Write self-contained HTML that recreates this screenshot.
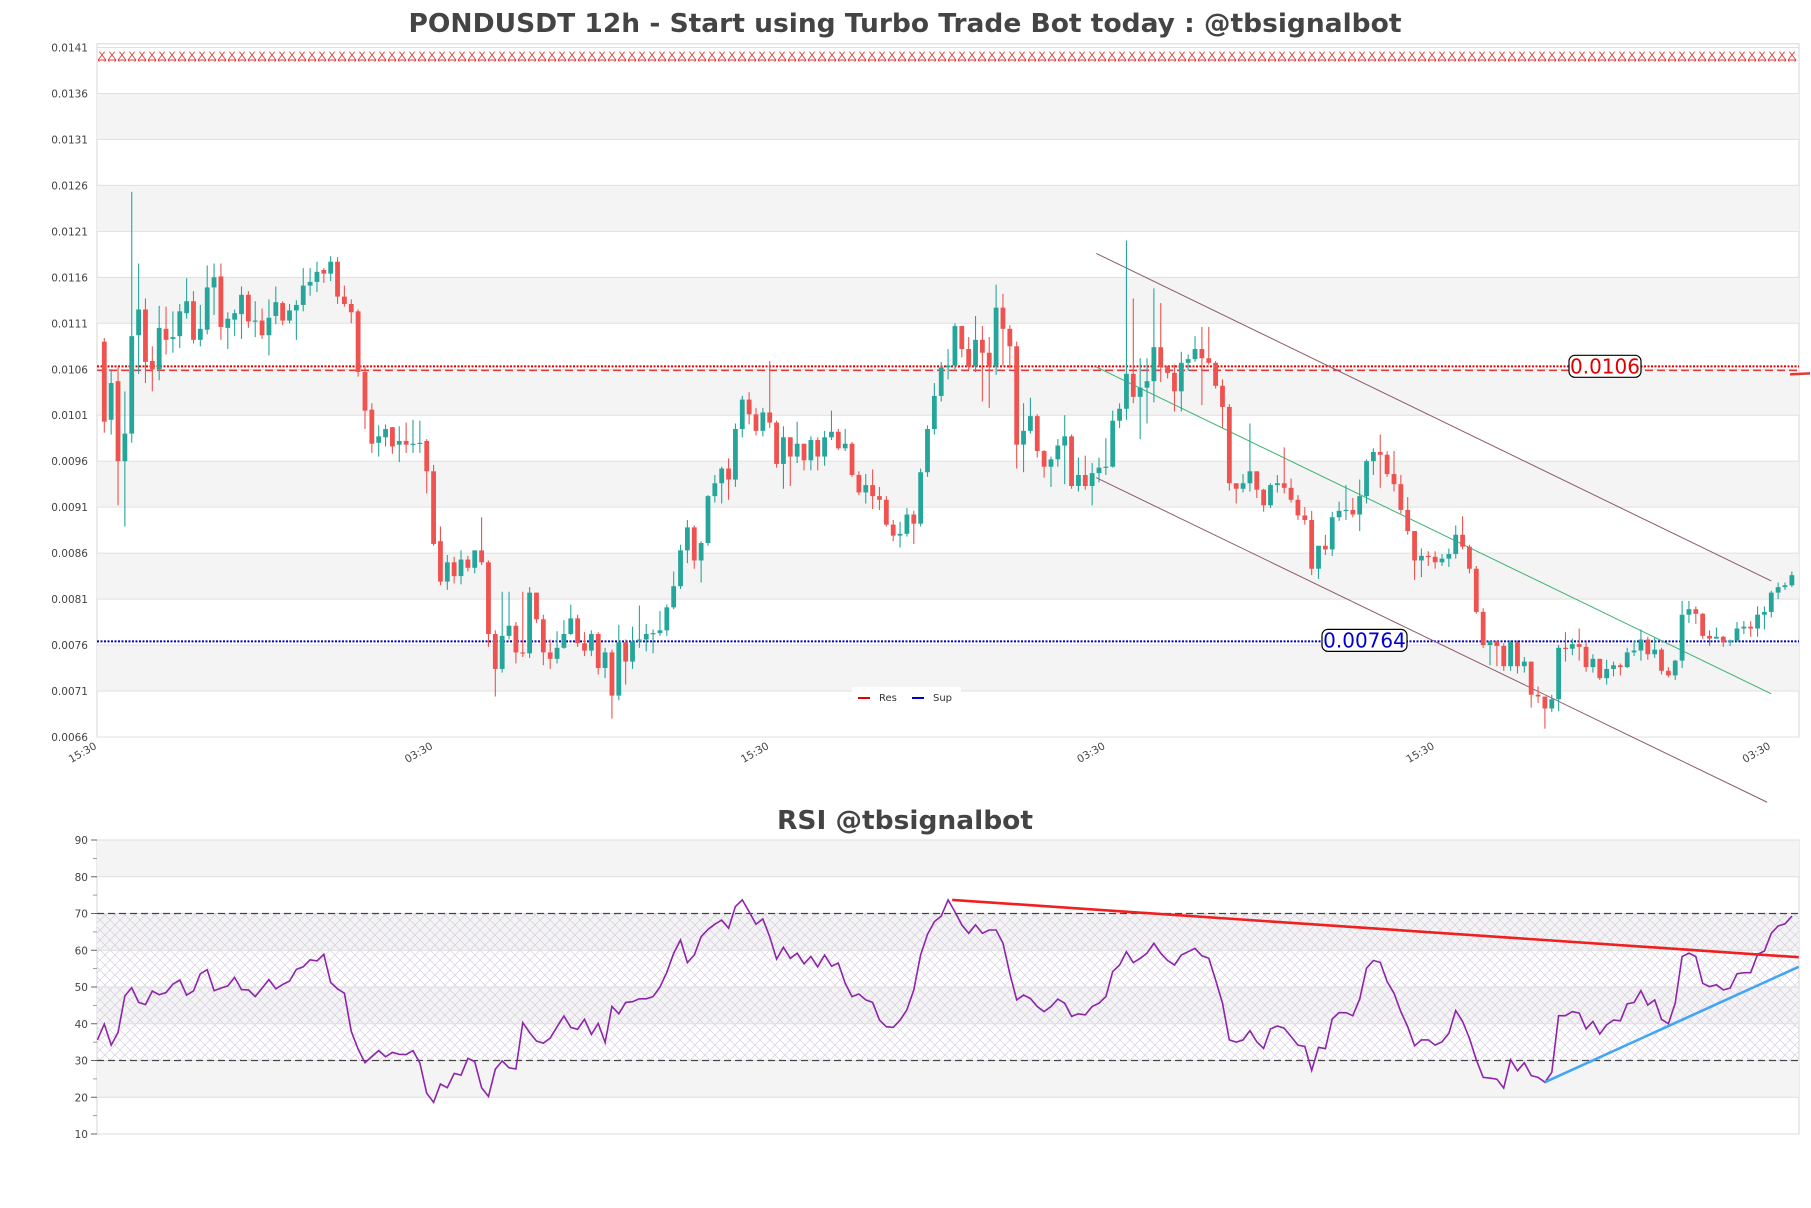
<!DOCTYPE html>
<html><head><meta charset="utf-8"><title>PONDUSDT 12h</title>
<style>
html,body{margin:0;padding:0;background:#fff;}
svg{display:block;font-family:"DejaVu Sans","Liberation Sans",sans-serif;}
</style></head>
<body>
<svg id="chart" xmlns="http://www.w3.org/2000/svg" width="1811" height="1208" viewBox="0 0 1811 1208">
<defs>
<pattern id="hatch" width="10" height="10" patternUnits="userSpaceOnUse">
<path d="M0,0 L10,10 M10,0 L0,10" stroke="#cbbfd8" stroke-width="0.7" fill="none"/>
</pattern>
<pattern id="xline" x="97" width="10" height="10" patternUnits="userSpaceOnUse">
<path d="M1,0 L9,10 M9,0 L1,10 M1,0 L9,0 M1,10 L9,10" stroke="#e53935" stroke-width="0.9" fill="none"/>
</pattern>
</defs>
<text x="905" y="32" text-anchor="middle" font-size="26" font-weight="bold" fill="#444" textLength="993" lengthAdjust="spacingAndGlyphs">PONDUSDT 12h - Start using Turbo Trade Bot today : @tbsignalbot</text>
<text x="905" y="829" text-anchor="middle" font-size="26" font-weight="bold" fill="#444" textLength="256" lengthAdjust="spacingAndGlyphs">RSI @tbsignalbot</text>
<g id="main"></g>
<g id="rsi"></g>
</svg>
<script>
// price values in units of 0.0001
const opens=[109,100.5,104.7,96,99,109.7,112.5,106.9,106,110.4,109.3,109.6,112.1,113.4,109.2,110.3,114.9,116.1,110.5,111.4,112,114.1,111.2,111.3,109.7,111.8,113.2,111.3,112.4,113,115.1,115.5,116.8,116.4,117.7,113.9,113.1,112.3,105.7,101.6,98,98.6,99.7,97.8,98.2,97.8,97.9,98.2,94.9,87.3,82.9,85,83.5,85.3,84.4,86.3,85,77.2,73.4,77,78.1,75.2,
75.1,81.7,78.8,75.2,74.5,75.7,77.2,78.9,76.2,75.4,77.2,73.5,75.2,70.5,76.3,74.2,76.4,76.6,77.2,77.3,77.6,80.1,82.4,86.3,88.8,85.2,87.1,92.2,93.6,95.2,94,99.5,102.7,101.1,99.3,101.3,100.2,95.7,98.6,96.5,97.9,96.1,98.3,96.5,98.6,99.2,97.4,97.9,94.5,92.6,93.4,92.2,91.8,89.1,87.9,88.1,90.2,89.2,94.8,
99.5,103.1,106.2,106.4,110.7,108.2,106.3,109.2,107.8,106.3,112.7,110.4,108.5,97.8,99.3,100.9,97.1,95.4,96.2,97.7,98.7,93.3,94.5,93.3,94.7,95.3,95.4,100.4,101.7,105.5,103,104,104.7,108.4,106.3,105.6,103.6,106.7,107.1,108.2,107.2,106.7,104.2,101.9,93.6,93,93.6,94.9,92.9,91.2,93.4,93.6,93.1,91.8,90.1,89.6,84.3,86.8,86.4,89.9,90.6,90.7,90.2,
92.2,96,97,96.7,94.6,93.5,90.7,88.4,85.2,85.7,85.6,85,85.4,85.9,88,86.7,84.3,79.6,76,76.4,75.9,73.7,76.3,73.7,74.2,70.6,70.4,69.1,70.1,75.7,75.6,76.1,75.8,73.6,74.5,72.4,73.4,73.8,73.6,75.2,75.4,76.6,75,75.5,73.2,72.7,74.3,79.3,79.9,79.4,77,76.7,76.9,76.3,76.5,77.8,78,77.8,79.3,79.6,81.7,82.3,82.5];
const closes=[100.3,104.5,96,99,109.6,112.5,106.8,106,110.5,109.2,109.5,112.3,113.4,109.2,110.4,114.9,116,110.6,111.5,112.1,114.1,111.2,111.3,109.7,111.6,113.3,111.3,112.4,113,115.1,115.5,116.6,116.4,117.7,113.9,113.1,112.2,105.7,101.5,97.9,98.7,99.5,97.6,98.2,97.8,97.9,98,94.9,87,82.9,85,83.5,85.3,84.4,86.3,85,77.2,73.4,77,78.1,75.2,75.1,
81.7,78.8,75.2,74.5,75.7,77.2,78.9,76.2,75.4,77.2,73.5,75.2,70.5,76.3,74.2,76.4,76.6,77.2,77.3,77.6,80.1,82.4,86.3,88.8,85.2,87.1,92.2,93.6,95.2,94,99.5,102.7,101.1,99.3,101.3,100.2,95.7,98.6,96.5,97.9,96.1,98.3,96.5,98.6,99.2,97.4,97.9,94.5,92.6,93.4,92.2,91.8,89.1,87.9,88.1,90.2,89.2,94.8,99.5,
103.1,106.2,106.4,110.7,108.2,106.3,109.2,107.8,106.3,112.7,110.4,108.5,97.8,99.3,100.9,97.1,95.4,96.2,97.7,98.7,93.3,94.5,93.3,94.7,95.3,95.4,100.4,101.7,105.5,103,104,104.7,108.4,106.3,105.6,103.6,106.7,107.1,108.2,107.2,106.7,104.2,101.9,93.6,93,93.6,94.9,92.9,91.2,93.4,93.6,93.1,91.8,90.1,89.6,84.3,86.8,86.4,89.9,90.6,90.7,90.2,92.2,
96,97,96.7,94.6,93.5,90.7,88.4,85.2,85.7,85.6,85,85.4,85.9,88,86.7,84.3,79.6,76,76.4,75.9,73.7,76.3,73.7,74.2,70.6,70.4,69.1,70.1,75.7,75.6,76.1,75.8,73.6,74.5,72.4,73.4,73.8,73.6,75.2,75.4,76.6,75,75.5,73.2,72.7,74.3,79.3,79.9,79.4,77,76.7,76.9,76.3,76.5,77.8,78,77.8,79.3,79.6,81.7,82.3,82.5,83.6];
const highs=[109.4,106,106.2,103.6,125.3,117.5,113.7,108.5,112.9,112.8,112.3,113.1,115.9,114.5,113,117.3,117.5,117.5,112.2,112.5,115,114.5,113.4,112.6,113.6,115,113.4,113.1,113.5,117,117,117.7,117,118.3,118.2,115.1,113.6,112.5,106.4,102.3,99.9,100,99.7,99.8,100.2,100.5,100.4,98.4,95.6,88.9,85.8,85.6,86.3,85.7,86.3,89.9,85.2,77.6,81.8,81.8,78.5,81.8,
82.3,81.7,79.3,76.6,77.5,78.7,80.4,79.3,77.4,77.6,77.4,75.7,75.5,78.2,76.6,78,80.3,78.3,77.7,79.7,80.4,84,86.9,89.6,89,87.3,92.3,94.5,95.4,96.3,100.1,103.1,103.5,101.8,101.8,106.9,100.4,99.8,98.6,100.3,97.9,98.7,98.6,99.3,101.5,99.5,99.5,98.1,94.9,94.6,95.1,93.2,92.2,89.6,89.4,90.9,90.6,95.2,99.9,
104.5,106.8,108.2,111,110.7,109.5,111.8,110.7,109.5,115.2,114.2,110.8,109,102.3,102.9,101.1,97.2,96.5,98.4,101,98.9,96.4,96.6,95.8,96.4,98.5,101.5,102.3,120.0,113.7,107.2,107.2,114.8,113.2,106.4,106.5,107.9,107.6,109.6,110.6,110.6,106.9,104.9,102.2,93.6,94.6,100.1,94.9,93,93.6,94.5,97.5,94.1,92.3,91,90.6,86.8,88,90.5,91.6,93.4,92,94,
96.2,97.4,98.9,97.1,97.1,94.5,92.1,88.4,86.5,86.2,86.2,85.9,86.5,89,90,86.9,84.6,80,76.5,76.5,76.2,76.5,76.5,74.7,74.2,71.5,70.4,70.6,76,77.4,76.7,77.8,76.3,75,74.5,74.4,74.2,74,75.7,76.5,77.7,76.9,76.8,75.7,73.6,74.4,80.8,80.8,80.2,79.5,77.6,77.9,77,76.6,78.5,78.6,78.6,80.2,80.2,81.9,82.8,82.8,84];
const lows=[99.1,98.9,91.2,88.9,98,105.5,104.5,103.6,104.8,107.6,107.8,108.3,111.5,108.8,108.5,109.8,111.9,109.2,108.2,109.6,109.3,110.5,109.5,109.3,107.5,110.9,110.8,111,109.2,112.3,114,114.4,115.4,115.6,113.1,112.8,111,105.2,99.5,96.9,96.5,97.6,96.8,95.9,96.9,96.9,96.9,92.5,86.8,82.5,82,82.7,82.6,84,83.8,84.7,75.8,70.4,73,76.6,74,74.7,
74.6,78.4,73.8,73.4,74,75.6,77.1,75.8,74.8,74.8,72.8,72.4,68,70,71.7,73.4,75.7,75.3,75.1,77,77,79.9,82.1,84.9,84.3,82.8,86.8,91.5,91.4,91.8,93.2,98.6,100,98.8,98.7,99.6,95.3,93,93.3,95.8,95,95,95,95.5,98.3,97.2,97.1,94.3,92.3,91.4,90.8,90.7,88.9,87.3,86.6,87.8,87,88.9,94.3,
98.9,102.5,104.9,106,107.3,105.9,105.7,102.5,101.8,105.4,106.4,106.1,95.2,94.8,99,96.4,94.2,93.2,95.4,93.5,93,92.7,92.9,91.2,93.7,94.5,95.3,99.6,100.5,102.3,98.4,100.1,102.4,104.6,105,101.4,101.4,105.8,106.8,102.1,106.5,103.9,99.6,92.8,91.4,92.6,92.7,92,90.5,90.9,92.6,92.5,91.5,89.6,89.1,83.6,83.2,85.8,85.7,89.5,89.6,89.9,88.4,
91.4,94.5,93.1,94.3,92.7,90.3,88,83.1,83.4,84.6,84.3,84.6,84.5,85.4,86.4,83.8,79.4,75.7,73.8,73.7,73.2,73.2,72.9,73,69.2,69.7,66.9,68.7,68.8,74.2,74.9,74.3,73.1,73,72.2,71.7,72.6,72.7,73.5,74.8,74.3,74.4,74.6,72.8,72.5,72.2,73.5,78.4,78.3,76.7,75.9,76.7,75.8,75.9,76.3,77.2,76.9,76.9,77.7,79,81,82,82.3];
const rsiValues=[35.6,39.9,34.2,37.6,47.6,49.8,45.8,45.2,48.9,47.9,48.5,50.8,51.9,47.8,48.9,53.6,54.7,49.0,49.7,50.3,52.6,49.3,49.2,47.4,49.7,52.0,49.5,50.7,51.6,54.8,55.5,57.4,57.1,58.9,51.2,49.5,48.3,37.9,33.1,29.4,31.1,32.7,31.0,32.2,31.7,31.6,32.7,29.3,21.1,18.6,23.6,22.6,26.5,26.0,30.6,29.7,22.6,20.2,27.6,29.9,28.0,27.7,40.3,37.6,35.3,34.7,36.1,39.2,42.1,39.0,38.5,41.2,37.1,40.1,34.9,44.7,42.7,45.8,46.0,46.8,46.8,47.4,50.0,54.0,59.2,
62.8,56.6,58.7,63.7,65.7,67.1,68.2,66.0,71.9,73.7,70.5,67.1,68.5,63.7,57.6,60.8,57.8,59.2,56.3,58.3,55.5,58.7,55.7,56.5,51.0,47.4,48.1,46.5,45.8,41.0,39.2,39.0,41.0,43.8,49.2,58.7,64.3,67.8,69.3,73.7,70.5,66.9,64.6,66.9,64.6,65.5,65.5,61.9,53.7,46.5,47.8,46.9,44.7,43.3,44.7,46.7,45.6,42.0,42.7,42.4,44.7,45.6,47.4,54.2,56.0,59.6,56.6,57.8,59.2,61.9,59.2,57.2,56.0,58.7,59.6,60.5,58.5,57.8,51.9,45.6,35.6,35.0,
35.6,38.1,35.1,33.3,38.6,39.4,38.8,36.5,34.2,33.8,27.3,33.6,33.2,41.3,43.0,43.0,42.2,46.7,55.1,57.2,56.7,51.5,48.3,43.3,39.2,34.0,35.6,35.6,34.2,35.1,37.4,43.6,40.6,36.1,30.2,25.4,25.2,24.9,22.5,30.2,27.2,29.4,25.9,25.4,24.1,26.8,42.2,42.2,43.3,42.9,38.6,40.6,37.2,39.7,41.0,40.8,45.4,45.8,49.0,45.1,46.5,41.2,40.0,45.6,58.3,59.2,58.3,51.0,50.1,50.6,49.2,49.7,53.6,53.9,53.9,58.9,59.8,64.6,66.6,67.2,69.3];
const priceTicks=[141,136,131,126,121,116,111,106,101,96,91,86,81,76,71,66];
const priceTickLabels=["0.0141","0.0136","0.0131","0.0126","0.0121","0.0116","0.0111","0.0106","0.0101","0.0096","0.0091","0.0086","0.0081","0.0076","0.0071","0.0066"];
const priceBands=[[136,131],[126,121],[116,111],[106,101],[96,91],[86,81],[76,71]];
const timeTickIndex=[-1,48,97,146,194,243];
const timeTickLabels=["15:30","03:30","15:30","03:30","15:30","03:30"];
const rsiTicks=[90,80,70,60,50,40,30,20,10];
const rsiBands=[[90,80],[70,60],[50,40],[30,20]];
const resistance=106.1, support=76.4, topLevel=140.0;
const channelUpper=[[144.6,118.6],[243,82.97]];
const channelLower=[[144.6,94.2],[242.4,58.9]];
const channelMid=[[144.6,106.25],[243,70.7]];
const rsiRedTrend=[[123.6,73.7],[247,58.1]];
const rsiBlueTrend=[[210,24.1],[247,55.5]];

const NS="http://www.w3.org/2000/svg";
const L=97,R=1799,PT=43.8,PB=737,RT=840,RB=1134;
function xi(i){return 104.3+6.86*i;}
function yp(p){return 47.5+(141-p)*9.193;}
function yr(v){return RT+(90-v)*3.675;}
function mk(parent,tag,attrs){const e=document.createElementNS(NS,tag);for(const k in attrs)e.setAttribute(k,attrs[k]);parent.appendChild(e);return e;}
const main=document.getElementById('main');
const rsi=document.getElementById('rsi');

let el=mk(main,'rect',{x:L,y:PT,width:R-L,height:PB-PT,fill:'#fff',stroke:'#d6d6d6','stroke-width':1});


priceBands.forEach(b=>{
  const e=mk(main,'rect',{x:L,y:yp(b[0]),width:R-L,height:yp(b[1])-yp(b[0]),fill:'#f4f4f4'});
  
  
});
priceTicks.forEach((t,i)=>{
  const g=mk(main,'line',{x1:L,x2:R,y1:yp(t),y2:yp(t),stroke:'#e0e0e0','stroke-width':1});
  
  
  const tx=mk(main,'text',{x:88,y:yp(t)+4,'text-anchor':'end','font-size':10.5,fill:'#444'});
  tx.textContent=priceTickLabels[i];
  
  
});
timeTickIndex.forEach((ti,i)=>{
  const x=xi(ti);
  const tx=mk(main,'text',{x:x,y:748,'text-anchor':'end','font-size':10.5,fill:'#444',transform:`rotate(-30 ${x} 748)`});
  tx.textContent=timeTickLabels[i];
  
  
});
el=mk(main,'rect',{x:L+1,y:yp(topLevel)-5,width:R-L-2,height:10,fill:'url(#xline)'});


el=mk(main,'line',{x1:L,x2:R,y1:yp(resistance)-2,y2:yp(resistance)-2,stroke:'#e00000','stroke-width':2,'stroke-dasharray':'2,1.5'});


el=mk(main,'line',{x1:L,x2:R,y1:yp(resistance)+2,y2:yp(resistance)+2,stroke:'#e53935','stroke-width':1.5,'stroke-dasharray':'8,4'});


el=mk(main,'line',{x1:1790,x2:1810,y1:yp(resistance)+6,y2:yp(resistance)+5,stroke:'#e53935','stroke-width':2.5});


el=mk(main,'line',{x1:L,x2:R,y1:yp(support),y2:yp(support),stroke:'#0000c0','stroke-width':2,'stroke-dasharray':'2,1.5'});


[[channelUpper,'#8d5a68','channel-upper'],[channelLower,'#8d5a68','channel-lower'],[channelMid,'#3cb371','channel-mid']].forEach(c=>{
  const e=mk(main,'line',{x1:xi(c[0][0][0]),y1:yp(c[0][0][1]),x2:xi(c[0][1][0]),y2:yp(c[0][1][1]),stroke:c[1],'stroke-width':1});
  
  
});
for(let i=0;i<closes.length;i++){
  const up=closes[i]>=opens[i];const col=up?'#26a69a':'#ef5350';const x=xi(i);
  const w=mk(main,'line',{x1:x,x2:x,y1:yp(highs[i]),y2:yp(lows[i]),stroke:col,'stroke-width':1.1});
  
  
  const top=yp(Math.max(opens[i],closes[i]));const h=Math.max(1.2,Math.abs(yp(opens[i])-yp(closes[i])));
  const b=mk(main,'rect',{x:x-2.4,y:top,width:4.8,height:h,fill:col});
  
  
}
function tag(text,x,y,w,col,name){
  const r=mk(main,'rect',{x:x,y:y-12,width:w,height:22,rx:6,fill:'#fff',stroke:'#000','stroke-width':1.2});
  
  
  const t=mk(main,'text',{x:x+w/2,y:y+6,'text-anchor':'middle','font-size':20,fill:col});
  t.textContent=text;
  
  
}
tag('0.0106',1569,yp(resistance)-1,72,'#e00000','resistance-value-label');
tag('0.00764',1322,yp(support),85,'#0000d0','support-value-label');
el=mk(main,'rect',{x:852,y:687,width:109,height:20,fill:'#fff',rx:2});


el=mk(main,'line',{x1:858,x2:870,y1:698,y2:698,stroke:'#e00000','stroke-width':2});


el=mk(main,'text',{x:879,y:701,'font-size':10,fill:'#333'});el.textContent='Res';


el=mk(main,'line',{x1:912,x2:924,y1:698,y2:698,stroke:'#0000c0','stroke-width':2});


el=mk(main,'text',{x:933,y:701,'font-size':10,fill:'#333'});el.textContent='Sup';



el=mk(rsi,'rect',{x:L,y:RT,width:R-L,height:RB-RT,fill:'#fff',stroke:'#d6d6d6','stroke-width':1});


rsiBands.forEach(b=>{
  const e=mk(rsi,'rect',{x:L,y:yr(b[0]),width:R-L,height:yr(b[1])-yr(b[0]),fill:'#f4f4f4'});
  
  
});
el=mk(rsi,'rect',{x:L,y:yr(70),width:R-L,height:yr(30)-yr(70),fill:'url(#hatch)',opacity:0.8});


rsiTicks.forEach(t=>{
  const g=mk(rsi,'line',{x1:L,x2:R,y1:yr(t),y2:yr(t),stroke:'#dedede','stroke-width':1});
  
  
  const tk=mk(rsi,'line',{x1:91,x2:97,y1:yr(t),y2:yr(t),stroke:'#666','stroke-width':1});
  
  
  if(t>10){
    const m=mk(rsi,'line',{x1:93,x2:97,y1:yr(t-5),y2:yr(t-5),stroke:'#888','stroke-width':0.8});
    
    
  }
  const tx=mk(rsi,'text',{x:88,y:yr(t)+4,'text-anchor':'end','font-size':10.5,fill:'#444'});
  tx.textContent=String(t);
  
  
});
[70,30].forEach(v=>{
  const e=mk(rsi,'line',{x1:L,x2:R,y1:yr(v),y2:yr(v),stroke:'#444','stroke-width':1.2,'stroke-dasharray':'7,4'});
  
  
});
let pts=rsiValues.map((v,k)=>xi(k-1).toFixed(1)+','+yr(v).toFixed(1)).join(' ');
el=mk(rsi,'polyline',{points:pts,fill:'none',stroke:'#8e24aa','stroke-width':1.6});


el=mk(rsi,'line',{x1:xi(rsiRedTrend[0][0]),y1:yr(rsiRedTrend[0][1]),x2:Math.min(R,xi(rsiRedTrend[1][0])),y2:yr(rsiRedTrend[1][1]),stroke:'#f02020','stroke-width':2.6});


el=mk(rsi,'line',{x1:xi(rsiBlueTrend[0][0]),y1:yr(rsiBlueTrend[0][1]),x2:Math.min(R,xi(rsiBlueTrend[1][0])),y2:yr(rsiBlueTrend[1][1]),stroke:'#42a5f5','stroke-width':2.6});


</script>
</body></html>
